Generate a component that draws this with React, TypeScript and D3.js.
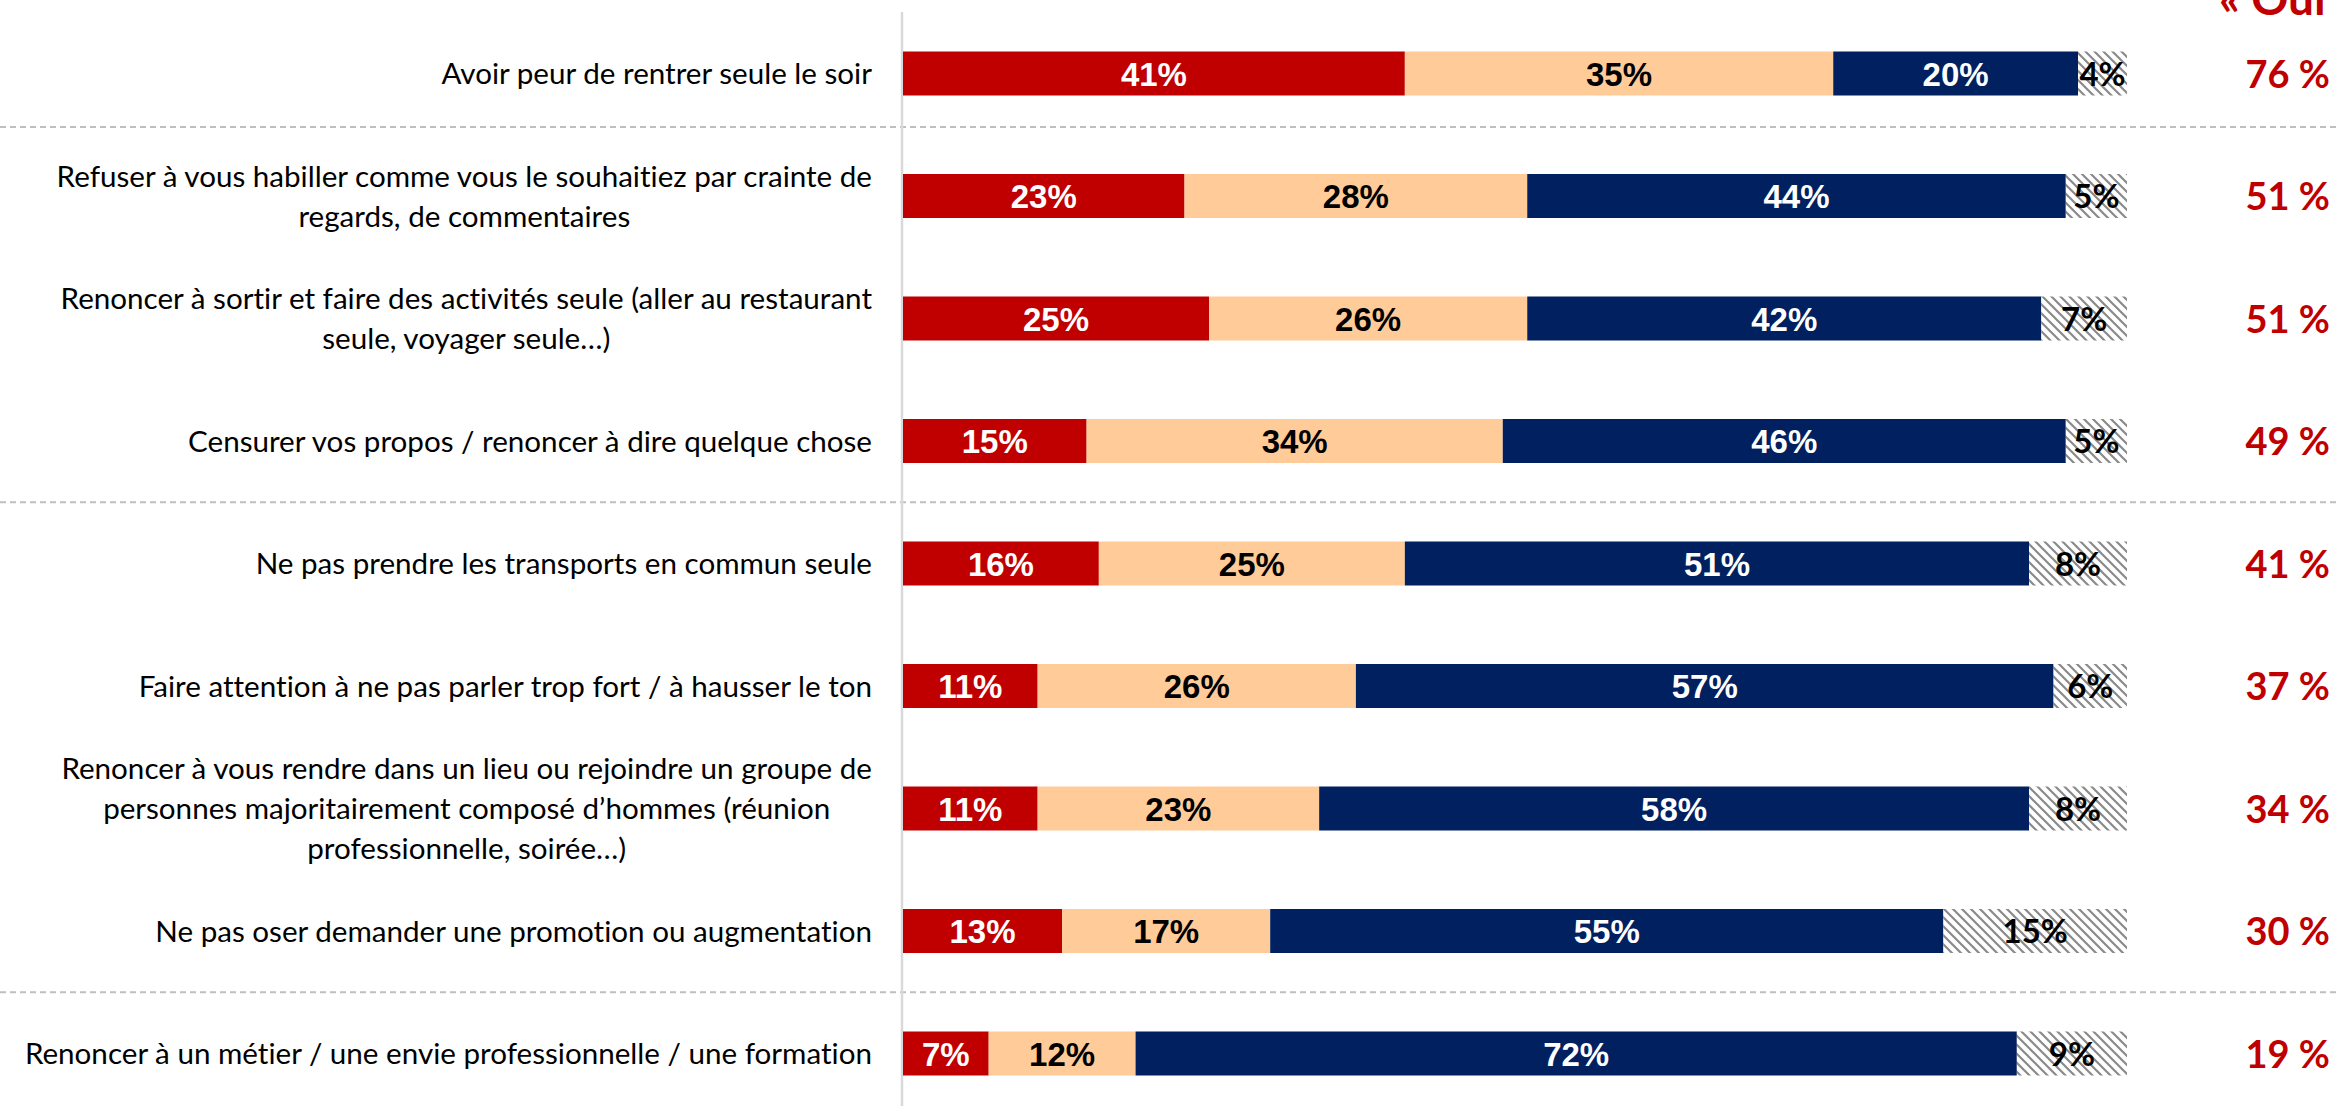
import React, { useEffect, useRef } from "react";
import * as d3 from "d3";

const categories: string[][] = [
  ["Avoir peur de rentrer seule le soir"],
  ["Refuser à vous habiller comme vous le souhaitiez par crainte de", "regards, de commentaires"],
  ["Renoncer à sortir et faire des activités seule (aller au restaurant", "seule, voyager seule…)"],
  ["Censurer vos propos / renoncer à dire quelque chose"],
  ["Ne pas prendre les transports en commun seule"],
  ["Faire attention à ne pas parler trop fort / à hausser le ton"],
  ["Renoncer à vous rendre dans un lieu ou rejoindre un groupe de", "personnes majoritairement composé d’hommes (réunion", "professionnelle, soirée…)"],
  ["Ne pas oser demander une promotion ou augmentation"],
  ["Renoncer à un métier / une envie professionnelle / une formation"],
];

const ouiSouvent = [41, 23, 25, 15, 16, 11, 11, 13, 7];
const ouiParfois = [35, 28, 26, 34, 25, 26, 23, 17, 12];
const non = [20, 44, 42, 46, 51, 57, 58, 55, 72];
const nonConcerne = [4, 5, 7, 5, 8, 6, 8, 15, 9];
const totalOui = ["76 %", "51 %", "51 %", "49 %", "41 %", "37 %", "34 %", "30 %", "19 %"];
const groupBreaksAfter = [0, 3, 7];
const headerText = "« Oui »";

const W = 2336;
const H = 1106;

export default function App() {
  const ref = useRef<SVGSVGElement | null>(null);

  useEffect(() => {
    const svg = d3.select(ref.current);
    svg.selectAll("*").remove();

    const defs = svg.append("defs");
    const pat = defs
      .append("pattern")
      .attr("id", "hatch")
      .attr("patternUnits", "userSpaceOnUse")
      .attr("width", 9)
      .attr("height", 9);
    pat.append("rect").attr("width", 9).attr("height", 9).attr("fill", "#ffffff");
    pat
      .append("path")
      .attr("d", "M-2,-2 L11,11 M-2,7 L2,11 M7,-2 L11,2")
      .attr("stroke", "#8a8a8a")
      .attr("stroke-width", 2.2);

    const x = d3.scaleLinear().domain([0, 100]).range([903, 2127]);
    const idx = categories.map((_, i) => i);
    const y = d3
      .scaleBand<number>()
      .domain(idx)
      .range([12.25, 12.25 + 122.5 * categories.length])
      .paddingInner(1 - 44 / 122.5)
      .paddingOuter((1 - 44 / 122.5) / 2);
    const bw = y.bandwidth();

    // separators
    const sepFrac = [0.4, 0.5, 0.5];
    groupBreaksAfter.forEach((b, k) => {
      const y0 = (y(b) as number) + bw;
      const y1 = y(b + 1) as number;
      const yy = y0 + (y1 - y0) * sepFrac[k];
      svg
        .append("line")
        .attr("x1", 0)
        .attr("x2", W)
        .attr("y1", yy)
        .attr("y2", yy)
        .attr("stroke", "#bfbfbf")
        .attr("stroke-width", 2)
        .attr("stroke-dasharray", "6,4");
    });

    // axis line
    svg
      .append("line")
      .attr("x1", 902)
      .attr("x2", 902)
      .attr("y1", 12)
      .attr("y2", H)
      .attr("stroke", "#d9d9d9")
      .attr("stroke-width", 2.5);

    const series = [
      { values: ouiSouvent, fill: "#C00000", text: "#ffffff", font: "narrow" },
      { values: ouiParfois, fill: "#FFCC99", text: "#000000", font: "narrow" },
      { values: non, fill: "#002060", text: "#ffffff", font: "narrow" },
      { values: nonConcerne, fill: "url(#hatch)", text: "#000000", font: "calibri" },
    ];

    idx.forEach((i) => {
      let acc = 0;
      const yTop = y(i) as number;
      const cy = yTop + bw / 2;
      series.forEach((s) => {
        const v = s.values[i];
        const x0 = x(acc);
        const x1 = x(acc + v);
        acc += v;
        svg
          .append("rect")
          .attr("x", x0)
          .attr("y", yTop)
          .attr("width", x1 - x0)
          .attr("height", bw)
          .attr("fill", s.fill);
        svg
          .append("text")
          .attr("x", (x0 + x1) / 2)
          .attr("y", cy + 12)
          .attr("text-anchor", "middle")
          .attr("fill", s.text)
          .attr("font-weight", "bold")
          .attr(
            "font-family",
            s.font === "narrow"
              ? "'Liberation Sans Narrow', 'Arial Narrow', 'Liberation Sans', sans-serif"
              : "Lato, 'Open Sans', sans-serif"
          )
          .attr("font-size", 33)
          .text(`${v}%`);
      });

      // total
      svg
        .append("text")
        .attr("x", 2330)
        .attr("y", cy + 14)
        .attr("text-anchor", "end")
        .attr("fill", "#C00000")
        .attr("font-weight", "bold")
        .attr("font-family", "Lato, 'Open Sans', sans-serif")
        .attr("font-size", 38)
        .text(totalOui[i]);

      // category label
      const lines = categories[i];
      const g = svg.append("g");
      const lineH = 40;
      const first = cy - ((lines.length - 1) * lineH) / 2 + 10.5;
      const texts = lines.map((ln, k) =>
        g
          .append("text")
          .attr("y", first + k * lineH)
          .attr("text-anchor", "middle")
          .attr("fill", "#000000")
          .attr("font-family", "Lato, 'Open Sans', sans-serif")
          .attr("font-size", 29.6)
          .style("font-variant-ligatures", "none")
          .style("font-feature-settings", "'liga' 0, 'clig' 0, 'dlig' 0")
          .text(ln)
      );
      const widths = texts.map((t) => (t.node() as SVGTextElement).getComputedTextLength());
      const maxW = Math.max(...widths);
      const center = 872 - maxW / 2;
      texts.forEach((t) => t.attr("x", center));
    });

    // header (cut off at the top edge, as in the original)
    svg
      .append("text")
      .attr("x", 2219)
      .attr("y", 15)
      .attr("fill", "#C00000")
      .attr("font-weight", "bold")
      .attr("font-family", "Lato, 'Open Sans', sans-serif")
      .attr("font-size", 46)
      .text(headerText);
  }, []);

  return (
    <svg
      ref={ref}
      width={W}
      height={H}
      style={{ position: "fixed", left: 0, top: 0, background: "#ffffff" }}
    />
  );
}
